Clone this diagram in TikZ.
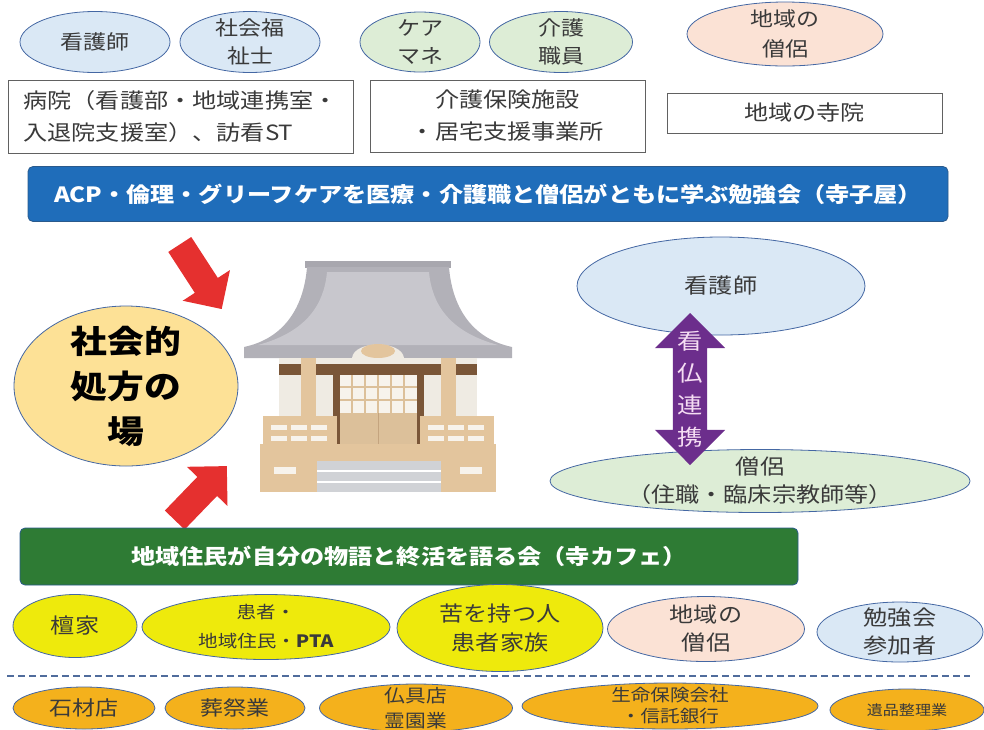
\documentclass[tikz,border=0pt]{standalone}
\usepackage{fontspec}
\usetikzlibrary{shapes.geometric, shapes.arrows}

\newfontfamily\jp[FakeStretch=1.15]{Noto Sans CJK JP}
\newcommand{\fsz}[2]{\fontsize{#1}{#2}\selectfont}

\definecolor{ovalline}{HTML}{4467A3}
\definecolor{inkgray}{HTML}{3A3A3A}
\definecolor{skyblue}{HTML}{DAE8F5}
\definecolor{mint}{HTML}{DDEDD6}
\definecolor{blush}{HTML}{FBE2D5}
\definecolor{lemon}{HTML}{EEEA0C}
\definecolor{amber}{HTML}{F4B11C}
\definecolor{cream}{HTML}{FDE196}
\definecolor{bannerblue}{HTML}{1F6DBA}
\definecolor{bannergreen}{HTML}{2E7B34}
\definecolor{bannerline}{HTML}{2A5A8C}
\definecolor{arrowred}{HTML}{E5302F}
\definecolor{linkviolet}{HTML}{6C2E8C}
\definecolor{lilac}{HTML}{F5DDF3}
% temple colours
\definecolor{ridgegray}{HTML}{A8A7AE}
\definecolor{roofgray}{HTML}{B2B1B8}
\definecolor{roofpale}{HTML}{C8C7CD}
\definecolor{wallcream}{HTML}{EFEBE3}
\definecolor{beambrown}{HTML}{7A5638}
\definecolor{woodtan}{HTML}{E3C59D}
\definecolor{doortan}{HTML}{DCC09A}
\definecolor{woodpale}{HTML}{F7F3EC}
\definecolor{stairgray}{HTML}{D0D2D6}

\begin{document}
\begin{tikzpicture}[x=1pt, y=-1pt,
    oval/.style={ellipse, draw=ovalline, line width=0.8pt, inner sep=0pt},
    txt/.style={align=center, text=inkgray, font=\jp\fsz{20}{28}},
    box/.style={rectangle, draw=inkgray!80, line width=0.8pt, fill=white, inner sep=4pt, text=inkgray, font=\jp\fsz{21}{32}},
    banner/.style={rectangle, rounded corners=5pt, draw=bannerline, line width=0.8pt, text=white, font=\jp\bfseries\fsz{21}{26}},
    inarrow/.style={single arrow, fill=arrowred, inner sep=13.5pt, single arrow head extend=14.5pt}]

\useasboundingbox (0,0) rectangle (984,729);

% professionals on top
\node[oval, fill=skyblue, minimum width=150, minimum height=61, label={[txt]center:看護師}] (nurseTop) at (95,42) {};
\node[oval, fill=skyblue, minimum width=140, minimum height=61, label={[txt]center:{社会福\\祉士}}] (socialWorker) at (250,42) {};
\node[oval, fill=mint, minimum width=120, minimum height=60, label={[txt]center:{ケア\\マネ}}] (careManager) at (420,42) {};
\node[oval, fill=mint, minimum width=143, minimum height=61, label={[txt]center:{介護\\職員}}] (careStaff) at (561,42) {};
\node[oval, fill=blush, minimum width=196, minimum height=64, label={[txt, font=\jp\fsz{20}{30}]center:{地域の\\僧侶}}] (monkTop) at (785,34) {};

% where they work
\node[box, minimum width=345, minimum height=73, align=left] (hospital) at (180.5,116.5) {病院（看護部・地域連携室・\\入退院支援室）、訪看ST};
\node[box, minimum width=275, minimum height=72, align=center] (facility) at (507.5,116) {介護保険施設\\・居宅支援事業所};
\node[box, minimum width=275, minimum height=40] (localTemple) at (804.5,113) {地域の寺院};

% study group banner
\node[banner, fill=bannerblue, minimum width=920, minimum height=55] (terakoya) at (488,194) {ACP・倫理・グリーフケアを医療・介護職と僧侶がともに学ぶ勉強会（寺子屋）};

% social prescribing
\node[oval, fill=cream, minimum width=224, minimum height=160, label={[txt, text=black, font=\jp\bfseries\fsz{32}{45}]center:{社会的\\処方の\\場}}] (socialRx) at (126,386) {};

\node[inarrow, minimum height=77, rotate=-57] (fromStudy) at (197,271) {};
\node[inarrow, minimum height=75, rotate=46] (fromCafe) at (196,498) {};

% temple: roof
\fill[ridgegray] (305,261) rectangle (451,268);
\fill[roofgray] (307,267) -- (449,267) .. controls (452,305) and (470,338) .. (512,347) -- (512,358) -- (244,358) -- (244,347) .. controls (286,338) and (304,305) .. (307,267) -- cycle;
\fill[roofpale] (327,272) -- (429,272) .. controls (432,305) and (450,332) .. (498,345) -- (258,345) .. controls (306,332) and (324,305) .. (327,272) -- cycle;
\fill[wallcream] (352,358) .. controls (354,340) and (402,340) .. (404,358) -- cycle;
\fill[woodtan] (378,351) ellipse [x radius=17, y radius=7];
% temple: walls, beam and pillars
\fill[wallcream] (279,358) rectangle (477,420);
\fill[beambrown] (279,364) rectangle (477,375);
\fill[woodtan] (301,358) rectangle (316,492);
\fill[woodtan] (441,358) rectangle (456,492);
% temple: door with lattice
\fill[beambrown] (333,375) rectangle (340,444);
\fill[beambrown] (417,375) rectangle (424,444);
\fill[woodpale] (340,375) rectangle (417,413);
\foreach \gx in {352,365,378,391,404}
    \draw[doortan, line width=1.5pt] (\gx,375) -- (\gx,413);
\foreach \gy in {387,400}
    \draw[doortan, line width=1.5pt] (340,\gy) -- (417,\gy);
\fill[doortan] (340,413) rectangle (417,444);
\draw[woodtan!70!beambrown, line width=1pt] (378.5,413) -- (378.5,444);
% temple: railings, deck and stairs
\foreach \rx in {263,420} {
    \fill[woodtan] (\rx,416) rectangle ++(74,45);
    \foreach \sx in {8,28,48}
        \foreach \sy in {9,20}
            \fill[woodpale] (\rx+\sx,416+\sy) rectangle ++(16,5);
}
\fill[woodtan] (260,444) rectangle (496,461);
\fill[woodtan] (260,461) rectangle (317,492);
\fill[woodtan] (441,461) rectangle (496,492);
\fill[woodpale] (274,467) rectangle (296,474);
\fill[woodpale] (460,467) rectangle (482,474);
\fill[stairgray] (317,461) rectangle (441,492);
\foreach \sy in {471,482}
    \draw[white, line width=1.2pt] (317,\sy) -- (441,\sy);

% nurse and monk working together
\node[oval, fill=skyblue, minimum width=288, minimum height=98, label={[txt, font=\jp\fsz{21}{28}]center:看護師}] (nurseRight) at (721,286) {};
\node[oval, fill=mint, minimum width=420, minimum height=63, label={[txt, font=\jp\fsz{21}{28}]center:{僧侶\\（住職・臨床宗教師等）}}] (monkRight) at (760,481) {};
\node[double arrow, fill=linkviolet, inner sep=17pt, rotate=90, minimum height=152, double arrow head extend=18pt] (nurseMonk) at (690,389) {};
\node[align=center, text=lilac, font=\jp\fsz{22}{32}] (nurseMonkText) at (690,389) {看\\仏\\連\\携};

% temple cafe banner
\node[banner, fill=bannergreen, minimum width=778, minimum height=57] (teraCafe) at (409,556.5) {地域住民が自分の物語と終活を語る会（寺カフェ）};

% people who come to the cafe
\node[oval, fill=lemon, minimum width=124, minimum height=63, label={[txt, font=\jp\fsz{21}{28}]center:檀家}] (danka) at (75,626) {};
\node[oval, fill=lemon, minimum width=248, minimum height=65, label={[txt, font=\jp\fsz{17}{29}]center:{患者・\\地域住民・\textbf{PTA}}}] (residents) at (266,627) {};
\node[oval, fill=lemon, minimum width=206, minimum height=87, label={[txt, font=\jp\fsz{21}{29}]center:{苦を持つ人\\患者家族}}] (sufferers) at (500,628) {};
\node[oval, fill=blush, minimum width=197, minimum height=65, label={[txt, font=\jp\fsz{21}{28}]center:{地域の\\僧侶}}] (monkBottom) at (706,629) {};
\node[oval, fill=skyblue, minimum width=166, minimum height=60, label={[txt, font=\jp\fsz{21}{28}]center:{勉強会\\参加者}}] (attendees) at (900,632) {};

\draw[ovalline!80!gray, line width=1.5pt, dash pattern=on 7pt off 4pt] (7,676) -- (970,676);

% related businesses
\node[oval, fill=amber, minimum width=142, minimum height=42, label={[txt, font=\jp\fsz{20}{26}]center:石材店}] (stoneMason) at (84,708) {};
\node[oval, fill=amber, minimum width=140, minimum height=42, label={[txt, font=\jp\fsz{20}{26}]center:葬祭業}] (funeralHome) at (235,708) {};
\node[oval, fill=amber, minimum width=193, minimum height=48, label={[txt, font=\jp\fsz{18}{25}]center:{仏具店\\霊園業}}] (altarShop) at (416,708) {};
\node[oval, fill=amber, minimum width=296, minimum height=46, label={[txt, font=\jp\fsz{17}{21}]center:{生命保険会社\\・信託銀行}}] (insurance) at (670,706) {};
\node[oval, fill=amber, minimum width=154, minimum height=42, label={[txt, font=\jp\fsz{14}{18}]center:遺品整理業}] (estateClearing) at (907,710) {};

\end{tikzpicture}
\end{document}
